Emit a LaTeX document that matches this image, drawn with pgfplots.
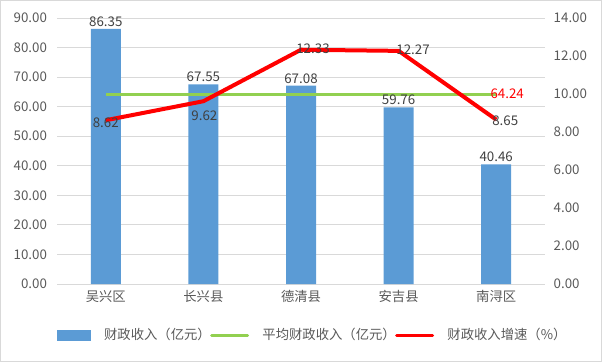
\documentclass[border=0pt]{standalone}
\usepackage{fontspec}
\setmainfont{Noto Sans CJK SC}
\usepackage{pgfplots}
\pgfplotsset{compat=1.18}
\definecolor{barblue}{HTML}{5B9BD5}
\definecolor{avggreen}{HTML}{92D050}
\definecolor{tickgray}{HTML}{595959}
\definecolor{labelgray}{HTML}{404040}
\definecolor{gridgray}{HTML}{D9D9D9}
\newcommand{\tf}{\fontsize{10}{12}\selectfont}
\begin{document}
\begin{tikzpicture}
\useasboundingbox (0,0) rectangle (451.5pt,271.5pt);
\draw[gridgray, line width=0.75pt] (0.375pt,0.375pt) rectangle (451.125pt,271.125pt);
\begin{axis}[
  at={(42.75pt,58.5pt)}, anchor=south west, scale only axis,
  width=366pt, height=199.5pt,
  xmin=-0.5, xmax=4.5, ymin=0, ymax=90,
  xtick={0,1,2,3,4}, xticklabels={吴兴区,长兴县,德清县,安吉县,南浔区},
  ytick={0,10,...,90},
  axis x line*=bottom, axis y line*=left,
  x axis line style={draw=gridgray, line width=0.75pt, -},
  y axis line style={draw=none},
  ymajorgrids, grid style={draw=gridgray, line width=0.75pt},
  major tick length=0pt,
  /pgf/number format/assume math mode=true,
  tick label style={font=\tf, text=tickgray},
  yticklabel style={/pgf/number format/fixed, /pgf/number format/fixed zerofill, /pgf/number format/precision=2, xshift=-4pt},
  xticklabel style={yshift=-1pt},
  clip=false,
]
\addplot[ybar, bar width=22.5pt, fill=barblue, draw=none,
  nodes near coords, nodes near coords align={vertical},
  nodes near coords style={font=\tf, text=labelgray, /pgf/number format/fixed, /pgf/number format/fixed zerofill, /pgf/number format/precision=2, inner sep=1.5pt}]
  coordinates {(0,86.35) (1,67.55) (2,67.08) (3,59.76) (4,40.46)};
\addplot[avggreen, line width=2.25pt] coordinates {(0,64.24) (4,64.24)};
\node[font=\tf, text=red, xshift=8.25pt] at (axis cs:4,64.24) {64.24};
\end{axis}
\begin{axis}[
  at={(42.75pt,58.5pt)}, anchor=south west, scale only axis,
  width=366pt, height=199.5pt,
  xmin=-0.5, xmax=4.5, ymin=0, ymax=14,
  ytick={0,2,...,14},
  axis y line*=right, axis x line=none,
  y axis line style={draw=none},
  major tick length=0pt,
  /pgf/number format/assume math mode=true,
  tick label style={font=\tf, text=tickgray},
  yticklabel style={/pgf/number format/fixed, /pgf/number format/fixed zerofill, /pgf/number format/precision=2, xshift=3pt},
  clip=false,
  legend columns=3,
  legend style={at={(0.525,-0.192)}, anchor=center, draw=none, fill=none,
    font=\tf, text=tickgray, inner sep=0pt,
    /tikz/every odd column/.append style={column sep=8pt},
    /tikz/every even column/.append style={column sep=-2.5pt}},
]
\addlegendimage{legend image code/.code={\fill[barblue] (0pt,-3.75pt) rectangle (24.75pt,3.75pt);}}
\addlegendentry{财政收入（亿元）}
\addlegendimage{legend image code/.code={\draw[avggreen, line width=2.25pt, line cap=round] (0pt,0pt) -- (27pt,0pt);}}
\addlegendentry{平均财政收入（亿元）}
\addplot[red, line width=3pt, line join=round, mark=none,
  legend image code/.code={\draw[red, line width=2.25pt, line cap=round] (0pt,0pt) -- (27pt,0pt);}]
  coordinates {(0,8.62) (1,9.62) (2,12.33) (3,12.27) (4,8.65)};
\addlegendentry{财政收入增速（\%）}
\node[font=\tf, text=labelgray, yshift=-2pt] at (axis cs:0,8.62) {8.62};
\node[font=\tf, text=labelgray, yshift=-11pt, xshift=0.75pt] at (axis cs:1,9.62) {9.62};
\node[font=\tf, text=labelgray, xshift=9pt, yshift=1pt] at (axis cs:2,12.33) {12.33};
\node[font=\tf, text=labelgray, xshift=10.8pt, yshift=0.7pt] at (axis cs:3,12.27) {12.27};
\node[font=\tf, text=labelgray, xshift=6.75pt, yshift=-1pt] at (axis cs:4,8.65) {8.65};
\end{axis}
\end{tikzpicture}
\end{document}
